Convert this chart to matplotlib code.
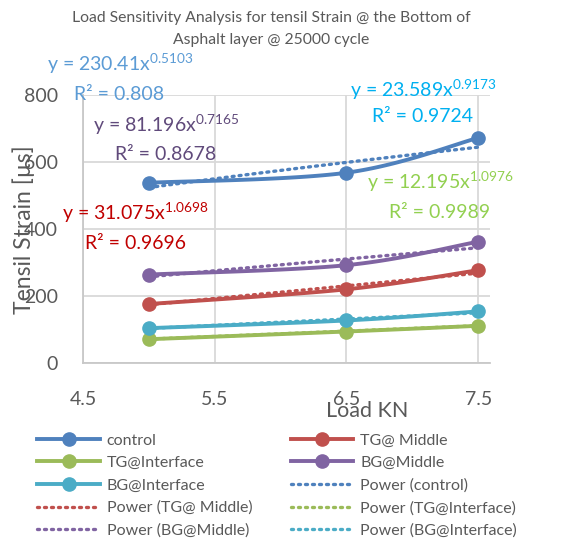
import numpy as np
import matplotlib
matplotlib.use("Agg")
import matplotlib.pyplot as plt
from matplotlib.lines import Line2D

plt.rcParams['font.family'] = ['Lato', 'DejaVu Sans']
plt.rcParams['mathtext.fontset'] = 'custom'
plt.rcParams['mathtext.rm'] = 'Lato'
plt.rcParams['mathtext.it'] = 'Lato:italic'
plt.rcParams['mathtext.bf'] = 'Lato:bold'

# ---- data ----
loads = [5.0, 6.5, 7.5]
series_names = ["control", "TG@ Middle", "TG@Interface", "BG@Middle", "BG@Interface"]
control = [538, 568, 672]
tg_middle = [176, 220, 277]
tg_interface = [71, 94, 111]
bg_middle = [264, 292, 362]
bg_interface = [104, 127, 154]
series_values = [control, tg_middle, tg_interface, bg_middle, bg_interface]

# power trendline coefficients (y = a x^b) and R^2, as displayed
trend_a = [230.41, 31.075, 12.195, 81.196, 23.589]
trend_b = [0.5103, 1.0698, 1.0976, 0.7165, 0.9173]
trend_r2 = ["0.808", "0.9696", "0.9989", "0.8678", "0.9724"]
trend_a_txt = ["230.41", "31.075", "12.195", "81.196", "23.589"]
trend_b_txt = ["0.5103", "1.0698", "1.0976", "0.7165", "0.9173"]

x_ticks = [4.5, 5.5, 6.5, 7.5]
y_ticks = [0, 200, 400, 600, 800]

line_colors = ["#4F81BD", "#C0504D", "#9BBB59", "#8064A2", "#4BACC6"]
label_colors = ["#5B9BD5", "#C00000", "#92D050", "#604A7B", "#00B0F0"]
# label positions (data coords): equation, R^2
label_pos = [((4.78, 893), (4.77, 800)),
             ((4.90, 448), (4.90, 358)),
             ((7.21, 541), (7.21, 450)),
             ((5.13, 710), (5.13, 621)),
             ((7.08, 815), (7.08, 735))]

def catmull_rom(xs, ys, n=40):
    xs = np.asarray(xs, float); ys = np.asarray(ys, float)
    P = np.column_stack([xs, ys])
    P = np.vstack([P[0], P, P[-1]])
    out = []
    for i in range(1, len(P) - 2):
        p0, p1, p2, p3 = P[i-1], P[i], P[i+1], P[i+2]
        t = np.linspace(0, 1, n)[:, None]
        c1 = p1 + (p2 - p0) / 6.0
        c2 = p2 - (p3 - p1) / 6.0
        seg = ((1-t)**3)*p1 + 3*((1-t)**2)*t*c1 + 3*(1-t)*(t**2)*c2 + (t**3)*p2
        out.append(seg if i == 1 else seg[1:])
    s = np.vstack(out)
    return s[:, 0], s[:, 1]

fig = plt.figure(figsize=(5.68, 5.44), dpi=100)
ax = fig.add_axes([83/568, 1-363/544, (490-83)/568, (363-95)/544])

tick_col = "#595959"
grid_col = "#D9D9D9"
dot_style = (0, (0.6, 1.5))

# trendlines first (behind)
xt = np.linspace(5.0, 7.5, 200)
for a, b, c in zip(trend_a, trend_b, line_colors):
    ax.plot(xt, a * xt ** b, linestyle=dot_style, color=c, lw=2.4,
            dash_capstyle='round', zorder=3)

for v, c in zip(series_values, line_colors):
    sx, sy = catmull_rom(loads, v)
    ax.plot(sx, sy, color=c, lw=2.8, zorder=4, solid_capstyle='round')
    ax.plot(loads, v, 'o', color=c, ms=9.5, zorder=5)

ax.set_xlim(4.5, 7.59)
ax.set_ylim(0, 800)
ax.set_xticks(x_ticks)
ax.set_yticks(y_ticks)
ax.set_xticklabels([f"{t}" for t in x_ticks])
ax.set_yticklabels([f"{t}" for t in y_ticks])
ax.tick_params(axis='x', length=0, pad=20, labelsize=14, labelcolor=tick_col)
ax.tick_params(axis='y', length=0, pad=18, labelsize=14, labelcolor=tick_col)
ax.grid(True, color=grid_col, lw=1.3)
ax.set_axisbelow(True)
for s in ['top', 'right']:
    ax.spines[s].set_visible(False)
for s in ['left', 'bottom']:
    ax.spines[s].set_color("#C8C8C8")
    ax.spines[s].set_linewidth(1.3)

for i in range(5):
    (ex, ey), (rx, ry) = label_pos[i]
    ax.text(ex, ey, f"y = {trend_a_txt[i]}x$^{{\\mathrm{{{trend_b_txt[i]}}}}}$",
            color=label_colors[i], fontsize=14, ha='center', va='center',
            clip_on=False, zorder=6)
    ax.text(rx, ry, f"R² = {trend_r2[i]}", color=label_colors[i], fontsize=14,
            ha='center', va='center', clip_on=False, zorder=6)

fig.text(271/568, 1-29/544,
         "Load Sensitivity Analysis for tensil Strain @ the Bottom of\nAsphalt layer @ 25000 cycle",
         ha='center', va='center', fontsize=11.3, color=tick_col, linespacing=1.65)

fig.text(24/568, 1-230/544, "Tensil Strain [µs]", rotation=90, ha='center', va='center',
         fontsize=16.5, color=tick_col)
fig.text(367/568, 1-411/544, "Load KN", ha='center', va='center', fontsize=15.5, color=tick_col)

# legend
h_line = []
for n, c in zip(series_names, line_colors):
    h_line.append(Line2D([], [], color=c, lw=2.8, marker='o', ms=9.5, label=n))
h_pow = []
for n, c in zip(series_names, line_colors):
    h_pow.append(Line2D([], [], color=c, lw=2.4, linestyle=dot_style,
                        dash_capstyle='round', label=f"Power ({n})"))
allh = h_line + h_pow
rows = [allh[i:i+2] for i in range(0, 10, 2)]
col1 = [r[0] for r in rows]
col2 = [r[1] for r in rows]
handles = col1 + col2
leg = fig.legend(handles=handles, labels=[h.get_label() for h in handles], ncol=2,
                 loc='upper left', bbox_to_anchor=(31/568, 1-427/544), frameon=False,
                 fontsize=11.5, handlelength=3.9, handletextpad=0.45, columnspacing=2.4,
                 labelspacing=0.52, borderaxespad=0)
for t in leg.get_texts():
    t.set_color(tick_col)

fig.savefig("out.png", dpi=100)
